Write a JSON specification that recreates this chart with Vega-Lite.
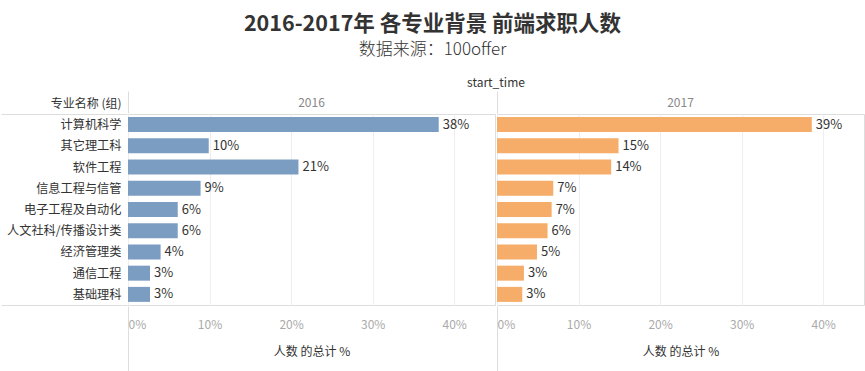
{
  "$schema": "https://vega.github.io/schema/vega-lite/v6.json",
  "padding": {"left": 0, "top": 13, "right": 3, "bottom": 0},
  "background": "white",
  "title": {
    "text": "2016-2017年 各专业背景 前端求职人数",
    "subtitle": "数据来源：100offer",
    "anchor": "middle",
    "frame": "bounds",
    "font": "Noto Sans CJK SC",
    "fontSize": 21.5,
    "fontWeight": "bold",
    "color": "#333333",
    "subtitleFont": "Noto Sans CJK SC",
    "subtitleFontSize": 17,
    "subtitleFontWeight": 300,
    "subtitleColor": "#333333",
    "subtitlePadding": 7,
    "offset": 19
  },
  "data": {
    "values": [
      {"year": "2016", "major": "计算机科学", "pct": 0.381},
      {"year": "2016", "major": "其它理工科", "pct": 0.099},
      {"year": "2016", "major": "软件工程", "pct": 0.209},
      {"year": "2016", "major": "信息工程与信管", "pct": 0.089},
      {"year": "2016", "major": "电子工程及自动化", "pct": 0.061},
      {"year": "2016", "major": "人文社科/传播设计类", "pct": 0.061},
      {"year": "2016", "major": "经济管理类", "pct": 0.040},
      {"year": "2016", "major": "通信工程", "pct": 0.027},
      {"year": "2016", "major": "基础理科", "pct": 0.027},
      {"year": "2017", "major": "计算机科学", "pct": 0.386},
      {"year": "2017", "major": "其它理工科", "pct": 0.149},
      {"year": "2017", "major": "软件工程", "pct": 0.140},
      {"year": "2017", "major": "信息工程与信管", "pct": 0.069},
      {"year": "2017", "major": "电子工程及自动化", "pct": 0.067},
      {"year": "2017", "major": "人文社科/传播设计类", "pct": 0.062},
      {"year": "2017", "major": "经济管理类", "pct": 0.049},
      {"year": "2017", "major": "通信工程", "pct": 0.033},
      {"year": "2017", "major": "基础理科", "pct": 0.031}
    ]
  },
  "facet": {
    "column": {
      "field": "year",
      "type": "ordinal",
      "header": {
        "title": "start_time",
        "titleFont": "Noto Sans CJK SC",
        "titleFontSize": 12,
        "titleFontWeight": "normal",
        "titleColor": "#333333",
        "titlePadding": -10,
        "labelFont": "Noto Sans CJK SC",
        "labelFontSize": 12,
        "labelColor": "#888888",
        "labelPadding": -19
      }
    }
  },
  "spacing": 0,
  "spec": {
    "width": 367,
    "height": 191,
    "resolve": {"axis": {"x": "independent"}},
    "encoding": {
      "y": {
        "field": "major",
        "type": "nominal",
        "sort": ["计算机科学", "其它理工科", "软件工程", "信息工程与信管", "电子工程及自动化", "人文社科/传播设计类", "经济管理类", "通信工程", "基础理科"],
        "scale": {"paddingInner": 0, "paddingOuter": 0},
        "axis": {
          "title": "专业名称 (组)",
          "titleAngle": 0,
          "titleAlign": "right",
          "titleBaseline": "middle",
          "titleX": -6,
          "titleY": -11,
          "titleFont": "Noto Sans CJK SC",
          "titleFontSize": 12,
          "titleFontWeight": "normal",
          "titleColor": "#333333",
          "labelFont": "Noto Sans CJK SC",
          "labelFontSize": 12.2,
          "labelColor": "#333333",
          "labelPadding": -120,
          "domain": false,
          "ticks": true,
          "tickBand": "extent",
          "tickSize": 126,
          "tickColor": {"condition": {"test": "datum.extra || datum.index === 1 || datum.value === '基础理科'", "value": "#dddddd"}, "value": "transparent"}
        }
      }
    },
    "layer": [
      {
        "mark": {"type": "bar", "height": 15},
        "encoding": {
          "x": {
            "field": "pct",
            "type": "quantitative",
            "scale": {"domain": [0, 0.45], "nice": false},
            "axis": {
              "title": "人数 的总计 %",
              "format": ".0%",
              "values": [0, 0.1, 0.2, 0.3, 0.4],
              "labelFont": "Noto Sans CJK SC",
              "labelFontSize": 12,
              "labelColor": "#aaaaaa",
              "labelFlush": true,
              "labelPadding": -53,
              "titleFont": "Noto Sans CJK SC",
              "titleFontSize": 12,
              "titleFontWeight": "normal",
              "titleColor": "#333333",
              "titleY": 45,
              "titleBaseline": "middle",
              "ticks": true,
              "tickSize": 66,
              "tickColor": {"condition": {"test": "datum.value === 0", "value": "#dddddd"}, "value": "transparent"},
              "domain": false,
              "gridColor": "#eeeeee"
            }
          },
          "color": {
            "field": "year",
            "type": "nominal",
            "scale": {"domain": ["2016", "2017"], "range": ["#7c9dc2", "#f5ad69"]},
            "legend": null
          }
        }
      },
      {
        "mark": {"type": "text", "align": "left", "baseline": "middle", "dx": 4, "font": "Noto Sans CJK SC", "fontSize": 13, "color": "#333333"},
        "encoding": {
          "x": {
            "field": "pct",
            "type": "quantitative",
            "axis": {
              "orient": "top",
              "title": null,
              "labels": false,
              "grid": false,
              "domain": false,
              "values": [0],
              "ticks": true,
              "tickSize": 22,
              "tickColor": "#dddddd"
            }
          },
          "text": {"field": "pct", "type": "quantitative", "format": ".0%"}
        }
      }
    ]
  },
  "config": {
    "view": {"stroke": "#dddddd"}
  }
}
